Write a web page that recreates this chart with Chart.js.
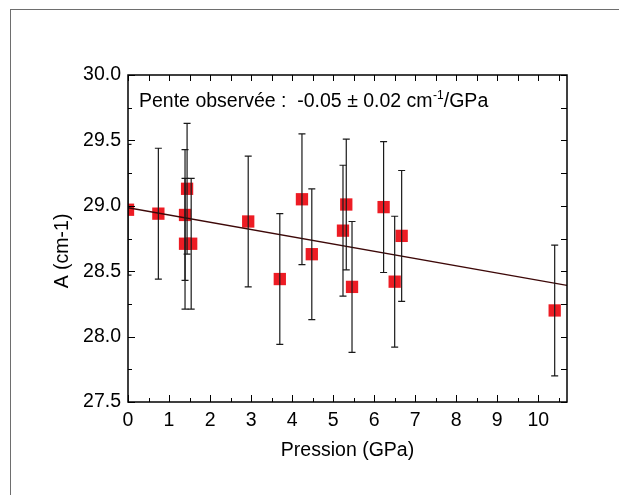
<!DOCTYPE html>
<html>
<head>
<meta charset="utf-8">
<script src="https://cdn.jsdelivr.net/npm/chart.js@4.4.1/dist/chart.umd.min.js"></script>
<style>
  html, body { margin: 0; padding: 0; background: #fff; }
  #wrap { width: 619px; height: 495px; position: relative; }
</style>
</head>
<body>
<div id="wrap"><canvas id="myChart"></canvas></div>
<script>
// pression (GPa)
const pression = [0.00, 0.74, 1.39, 1.44, 1.39, 1.54, 2.93, 3.70, 4.24, 4.48, 5.24, 5.32, 5.46, 6.23, 6.50, 6.67, 10.40];
// A (cm-1)
const valeursA = [28.97, 28.94, 28.93, 29.13, 28.71, 28.71, 28.88, 28.44, 29.05, 28.63, 28.81, 29.01, 28.38, 28.99, 28.42, 28.77, 28.20];
// barres d'erreur
const erreurs = [0.5, 0.5, 0.5, 0.5, 0.5, 0.5, 0.5, 0.5, 0.5, 0.5, 0.5, 0.5, 0.5, 0.5, 0.5, 0.5, 0.5];
// ajustement lineaire
const ordonnee = 28.985;
const pente = -0.0555;
const xMin = 0, xMax = 10.7;
const yMin = 27.5, yMax = 30.0;
const xTicks = [0, 1, 2, 3, 4, 5, 6, 7, 8, 9, 10];
const yTicks = [27.5, 28.0, 28.5, 29.0, 29.5, 30.0];

const police = '"Liberation Sans", Arial, sans-serif';
const taille = 19.5;

const points = pression.map((x, i) => ({ x: x, y: valeursA[i] }));
const droite = [xMin, xMax].map(x => ({ x: x, y: ordonnee + pente * x }));

// cadre, graduations, barres d'erreur, textes
const dessins = {
  id: 'dessins',
  beforeDraw(chart) {
    const ctx = chart.ctx;
    ctx.save();
    ctx.strokeStyle = '#6e6e6e';
    ctx.lineWidth = 1;
    ctx.strokeRect(10.5, 9.5, 800, 800);
    ctx.restore();
  },
  afterDatasetsDraw(chart) {
    const ctx = chart.ctx;
    const xs = chart.scales.x, ys = chart.scales.y;
    const a = chart.chartArea;
    ctx.save();
    ctx.beginPath();
    ctx.rect(a.left, a.top, a.right - a.left, a.bottom - a.top);
    ctx.clip();
    ctx.strokeStyle = '#1a1a1a';
    ctx.lineWidth = 1.2;
    pression.forEach((x, i) => {
      const px = xs.getPixelForValue(x);
      const yh = ys.getPixelForValue(valeursA[i] + erreurs[i]);
      const yb = ys.getPixelForValue(valeursA[i] - erreurs[i]);
      ctx.beginPath();
      ctx.moveTo(px, yh); ctx.lineTo(px, yb);
      ctx.moveTo(px - 3.5, yh); ctx.lineTo(px + 3.5, yh);
      ctx.moveTo(px - 3.5, yb); ctx.lineTo(px + 3.5, yb);
      ctx.stroke();
    });
    ctx.restore();
  },
  afterDraw(chart) {
    const ctx = chart.ctx;
    const xs = chart.scales.x, ys = chart.scales.y;
    const a = chart.chartArea;
    ctx.save();
    ctx.strokeStyle = '#000';
    ctx.lineWidth = 1.5;
    ctx.strokeRect(a.left, a.top, a.right - a.left, a.bottom - a.top);
    ctx.lineWidth = 1;
    ctx.beginPath();
    // graduations x (pas 0.5)
    for (let v = xMin; v <= xMax + 1e-9; v += 0.5) {
      const px = Math.round(xs.getPixelForValue(v)) + 0.5;
      const maj = Math.abs(v - Math.round(v)) < 1e-6;
      ctx.moveTo(px, a.bottom); ctx.lineTo(px, a.bottom - (maj ? 7 : 4));
      ctx.moveTo(px, a.top); ctx.lineTo(px, a.top + 6);
    }
    // graduations y (pas 0.25)
    for (let v = yMin; v <= yMax + 1e-9; v += 0.25) {
      const py = Math.round(ys.getPixelForValue(v)) + 0.5;
      const maj = Math.abs(v * 2 - Math.round(v * 2)) < 1e-6;
      ctx.moveTo(a.left, py); ctx.lineTo(a.left + (maj ? 7 : 4), py);
      ctx.moveTo(a.right, py); ctx.lineTo(a.right - 6, py);
    }
    ctx.stroke();

    // titre axe y
    ctx.fillStyle = '#000';
    ctx.font = taille + 'px ' + police;
    ctx.textAlign = 'center';
    ctx.textBaseline = 'middle';
    ctx.save();
    ctx.translate(63, 251);
    ctx.rotate(-Math.PI / 2);
    ctx.fillText('A (cm-1)', 0, 0);
    ctx.restore();

    // annotation
    ctx.textAlign = 'left';
    ctx.textBaseline = 'alphabetic';
    let x = 139;
    const base = 107;
    const t1 = 'Pente observée :  -0.05 ± 0.02 cm';
    ctx.font = taille + 'px ' + police;
    ctx.fillText(t1, x, base);
    x += ctx.measureText(t1).width;
    ctx.font = '12px ' + police;
    ctx.fillText('-1', x + 0.5, base - 8);
    x += ctx.measureText('-1').width + 0.5;
    ctx.font = taille + 'px ' + police;
    ctx.fillText('/GPa', x, base);
    ctx.restore();
  }
};

const config = {
  type: 'scatter',
  data: {
    datasets: [
      {
        label: 'A',
        data: points,
        pointStyle: 'rect',
        pointRadius: 8.7,
        pointHoverRadius: 8.7,
        pointBorderWidth: 0,
        backgroundColor: '#ed1c24',
        borderColor: '#ed1c24',
        order: 2
      },
      {
        label: 'Ajustement',
        type: 'line',
        data: droite,
        borderColor: '#3d0808',
        borderWidth: 1.3,
        pointRadius: 0,
        fill: false,
        order: 1
      }
    ]
  },
  options: {
    responsive: false,
    animation: false,
    events: [],
    layout: { padding: { left: 0, top: 75, right: 52, bottom: 0 } },
    plugins: {
      legend: { display: false },
      tooltip: { enabled: false }
    },
    scales: {
      x: {
        type: 'linear',
        min: xMin,
        max: xMax,
        afterBuildTicks: s => { s.ticks = xTicks.map(v => ({ value: v })); },
        afterFit: s => { s.height = 93; },
        grid: { display: false, drawTicks: false },
        border: { display: false },
        ticks: {
          padding: 6.5,
          color: '#000',
          font: { family: police, size: taille },
          maxRotation: 0,
          callback: v => String(v)
        },
        title: {
          display: true,
          text: 'Pression (GPa)',
          color: '#000',
          font: { family: police, size: taille },
          padding: { top: 0, bottom: 32.4 }
        }
      },
      y: {
        type: 'linear',
        min: yMin,
        max: yMax,
        afterBuildTicks: s => { s.ticks = yTicks.map(v => ({ value: v })); },
        afterFit: s => { s.width = 128; },
        grid: { display: false, drawTicks: false },
        border: { display: false },
        ticks: {
          padding: 7,
          color: '#000',
          font: { family: police, size: taille },
          callback: v => Number(v).toFixed(1)
        }
      }
    }
  },
  plugins: [dessins]
};

const canvas = document.getElementById('myChart');
canvas.width = 619;
canvas.height = 495;
const myChart = new Chart(canvas, config);
</script>
</body>
</html>
